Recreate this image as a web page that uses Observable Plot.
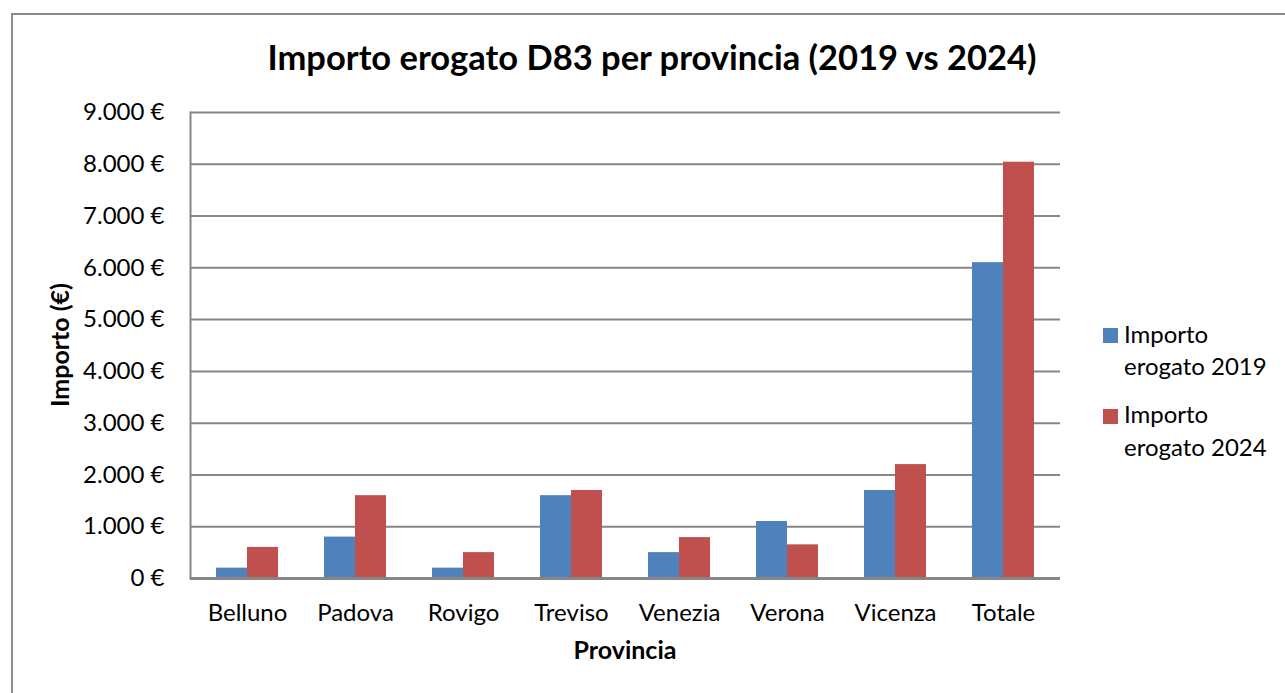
<!DOCTYPE html>
<html>
<head>
<meta charset="utf-8">
<script src="https://cdn.jsdelivr.net/npm/d3@7"></script>
<script src="https://cdn.jsdelivr.net/npm/@observablehq/plot@0.6"></script>
<style>
  html, body { margin: 0; padding: 0; background: #fff; }
  #wrap { position: relative; width: 1285px; height: 693px; overflow: hidden; }
  #frame { position: absolute; left: 11px; top: 13px; width: 1300px; height: 720px; border: 2px solid #8c8c8c; box-sizing: border-box; }
  #chart { position: absolute; left: 0; top: 0; }
</style>
</head>
<body>
<div id="wrap">
  <div id="frame"></div>
  <div id="chart"></div>
</div>
<script>
const titleText = "Importo erogato D83 per provincia (2019 vs 2024)";
const province = ["Belluno", "Padova", "Rovigo", "Treviso", "Venezia", "Verona", "Vicenza", "Totale"];
const importo2019 = [200, 800, 200, 1600, 500, 1100, 1700, 6100];
const importo2024 = [600, 1600, 500, 1700, 790, 650, 2200, 8040];
const seriesNames = ["Importo erogato 2019", "Importo erogato 2024"];
const seriesColors = ["#4F81BD", "#C0504D"];
const yTicks = [0, 1000, 2000, 3000, 4000, 5000, 6000, 7000, 8000, 9000];
const xLabel = "Provincia";
const yLabel = "Importo (€)";

const rows2019 = province.map((p, i) => ({provincia: p, serie: seriesNames[0], valore: importo2019[i]}));
const rows2024 = province.map((p, i) => ({provincia: p, serie: seriesNames[1], valore: importo2024[i]}));

const fmt = d => (d === 0 ? "0" : d3.format(",")(d).replace(/,/g, ".")) + " €";
const font = "Lato, 'Open Sans', sans-serif";
const halfBar = 31;

const chart = Plot.plot({
  width: 1285,
  height: 693,
  marginLeft: 190,
  marginRight: 225,
  marginTop: 112,
  marginBottom: 115,
  style: {fontFamily: font, fontSize: "24px", color: "#000", background: "transparent", overflow: "visible"},
  x: {domain: province, paddingInner: 0.43, paddingOuter: 0.215, label: null},
  y: {domain: [0, 9000], ticks: yTicks, label: null},
  color: {domain: seriesNames, range: seriesColors},
  marks: [
    Plot.ruleY(yTicks, {stroke: "#868686", strokeWidth: 2}),
    Plot.barY(rows2019, {x: "provincia", y: "valore", fill: "serie", insetRight: halfBar}),
    Plot.barY(rows2024, {x: "provincia", y: "valore", fill: "serie", insetLeft: halfBar}),
    Plot.axisY(yTicks, {tickSize: 0, tickPadding: 26, tickFormat: fmt, fontSize: 24, label: null}),
    Plot.axisX({tickSize: 0, tickPadding: 25, fontSize: 24, label: null}),
    Plot.frame({anchor: "left", stroke: "#868686", strokeWidth: 2}),
    Plot.ruleY([0], {stroke: "#868686", strokeWidth: 3})
  ]
});
document.getElementById("chart").appendChild(chart);

const svg = d3.select(chart);
svg.append("text")
  .attr("x", 652).attr("y", 70)
  .attr("text-anchor", "middle")
  .attr("font-family", font).attr("font-size", 34.5).attr("font-weight", "bold")
  .attr("fill", "#000")
  .text(titleText);
svg.append("text")
  .attr("x", 625).attr("y", 659)
  .attr("text-anchor", "middle")
  .attr("font-family", font).attr("font-size", 25).attr("font-weight", "bold")
  .attr("fill", "#000")
  .text(xLabel);
svg.append("text")
  .attr("transform", "translate(69,345) rotate(-90)")
  .attr("text-anchor", "middle")
  .attr("font-family", font).attr("font-size", 25).attr("font-weight", "bold")
  .attr("fill", "#000")
  .text(yLabel);

// legend
const legSwatchY = [328, 409];
const legBase = [[343, 375], [423, 456]];
seriesNames.forEach((s, i) => {
  const parts = s.split(" ");
  svg.append("rect")
    .attr("x", 1103).attr("y", legSwatchY[i]).attr("width", 15).attr("height", 15)
    .attr("fill", seriesColors[i]);
  svg.append("text")
    .attr("x", 1124).attr("y", legBase[i][0])
    .attr("text-anchor", "start")
    .attr("font-family", font).attr("font-size", 24).attr("fill", "#000")
    .text(parts[0]);
  svg.append("text")
    .attr("x", 1124).attr("y", legBase[i][1])
    .attr("text-anchor", "start")
    .attr("font-family", font).attr("font-size", 24).attr("fill", "#000")
    .text(parts.slice(1).join(" "));
});
</script>
</body>
</html>
